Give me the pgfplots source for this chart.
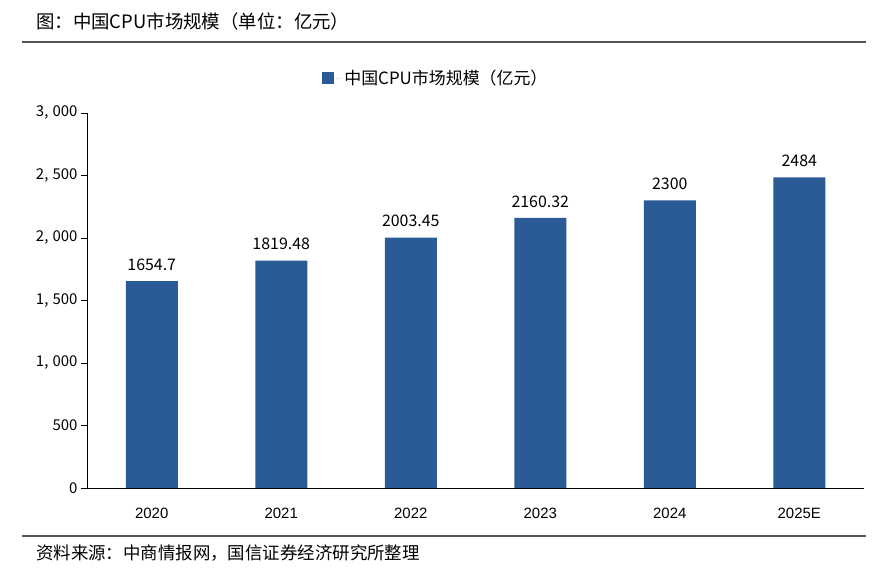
\documentclass[border=0pt]{standalone}
\usepackage{fontspec}
\setmainfont{Noto Sans CJK SC}
\newfontfamily\numfont{Liberation Sans}
\usepackage{pgfplots}
\pgfplotsset{compat=1.18}
\definecolor{barblue}{HTML}{2A5B96}
\definecolor{rulegray}{HTML}{555555}
\begin{document}
\begin{tikzpicture}[x=1bp,y=1bp]
\useasboundingbox (0,0) rectangle (879,570);
% header and footer
\node[anchor=west,font=\fontsize{18.5}{20}\selectfont,inner sep=0pt] at (36,548) {图：中国CPU市场规模（单位：亿元）};
\draw[rulegray,line width=1.6bp] (22,528) -- (866,528);
\draw[rulegray,line width=1.6bp] (22,34) -- (866,34);
\node[anchor=west,font=\fontsize{17.5}{19}\selectfont,inner sep=0pt] at (36,17) {资料来源：中商情报网，国信证券经济研究所整理};
\begin{axis}[
  at={(87bp,82bp)}, anchor=south west,
  scale only axis, width=777bp, height=375bp,
  xmin=-0.5, xmax=5.5, ymin=0, ymax=3000,
  axis x line*=bottom, axis y line*=left,
  axis line style={-, black, line width=0.8bp},
  xtick={0,1,2,3,4,5},
  xticklabels={2020,2021,2022,2023,2024,2025E},
  x tick label style={font=\numfont\fontsize{15}{17}\selectfont, yshift=-11bp},
  xtick style={draw=none},
  extra x ticks={0.5,1.5,2.5,3.5,4.5,5.5},
  extra x tick labels={},
  extra x tick style={tick style={draw=black, line width=0.8bp}, major tick length=6bp, tick align=inside},
  ytick={0,500,...,3000},
  y tick label style={font=\fontsize{15}{17}\selectfont},
  yticklabel={\pgfmathprintnumber[1000 sep={,\;}, fixed]{\tick}},
  /pgf/number format/assume math mode=true,
  ytick style={draw=black, line width=0.8bp},
  major tick length=6bp, tick align=outside,
  tick pos=left,
  ybar, bar width=52bp,
  legend style={draw=none, at={(0.449,1.093)}, anchor=center,
    font=\fontsize{17}{19}\selectfont, inner sep=0pt},
  legend image code/.code={\fill[barblue] (0bp,-6bp) rectangle (12bp,6bp); \path (0bp,0bp) -- (20bp,0bp);},
  nodes near coords,
  point meta=explicit symbolic,
  every node near coord/.append style={font=\fontsize{16}{18}\selectfont, black, yshift=7bp},
]
\addplot[fill=barblue, draw=none] coordinates {
  (0,1654.7) [1654.7]
  (1,1819.48) [1819.48]
  (2,2003.45) [2003.45]
  (3,2160.32) [2160.32]
  (4,2300) [2300]
  (5,2484) [2484]
};
\addlegendentry{中国CPU市场规模（亿元）}
\end{axis}
\end{tikzpicture}
\end{document}
